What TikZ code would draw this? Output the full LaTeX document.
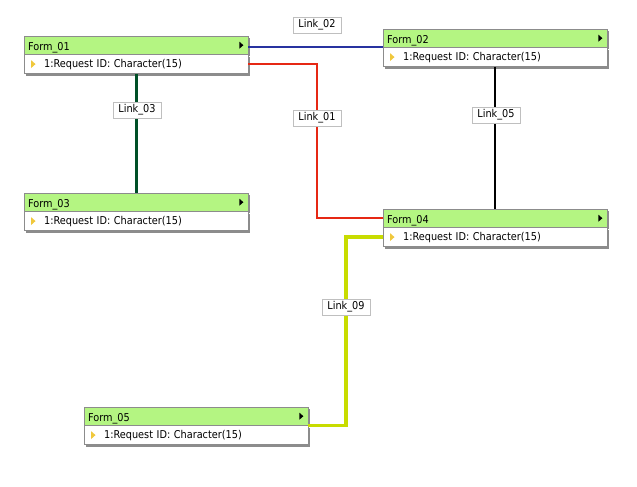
\documentclass[tikz,border=0pt]{standalone}
\usepackage{fontspec}
\setmainfont{DejaVu Sans Condensed}
\usetikzlibrary{positioning, calc, shadows}
\definecolor{headgreen}{RGB}{180,245,130}
\definecolor{boxgray}{RGB}{140,140,140}
\definecolor{linkblue}{RGB}{40,50,160}
\definecolor{linkred}{RGB}{230,40,20}
\definecolor{linkgreen}{RGB}{0,80,40}
\definecolor{linklime}{RGB}{200,220,0}
\definecolor{markyellow}{RGB}{240,200,60}

\tikzset{
  formhead/.style={rectangle, draw=boxgray, fill=headgreen, minimum width=224pt, minimum height=18pt,
    text width=216pt, text height=10.5pt, text depth=0.5pt, align=left, inner sep=3pt, anchor=north west,
    font=\fontsize{10.8}{12}\selectfont,
    drop shadow={shadow xshift=2pt, shadow yshift=-2pt, fill=boxgray, opacity=1}},
  formbody/.style={rectangle, draw=boxgray, fill=white, minimum width=224pt, minimum height=19pt,
    text width=216pt, align=left, inner sep=3pt, anchor=north west, font=\fontsize{10.8}{12}\selectfont,
    drop shadow={shadow xshift=2pt, shadow yshift=-2pt, fill=boxgray, opacity=1}},
  linklabel/.style={rectangle, draw=black!25, fill=white, minimum width=48pt, minimum height=16pt,
    inner sep=2pt, font=\fontsize{10.8}{12}\selectfont},
  linkline/.style={line width=2pt}
}

\begin{document}
\begin{tikzpicture}[x=1pt, y=-1pt]
    \useasboundingbox (0,0) rectangle (637,487);

    % Forms
    \node[formhead] (f1) at (24,36) {Form\_01};
    \node[formbody] (f1b) at (f1.south west) {\hspace*{16pt}1:Request ID: Character(15)};
    \node[formhead] (f2) at (383,29) {Form\_02};
    \node[formbody] (f2b) at (f2.south west) {\hspace*{16pt}1:Request ID: Character(15)};
    \node[formhead] (f3) at (24,193) {Form\_03};
    \node[formbody] (f3b) at (f3.south west) {\hspace*{16pt}1:Request ID: Character(15)};
    \node[formhead] (f4) at (383,209) {Form\_04};
    \node[formbody] (f4b) at (f4.south west) {\hspace*{16pt}1:Request ID: Character(15)};
    \node[formhead] (f5) at (84,407) {Form\_05};
    \node[formbody] (f5b) at (f5.south west) {\hspace*{16pt}1:Request ID: Character(15)};

    % Markers
    \foreach \f in {f1,f2,f3,f4,f5} {
        \fill ($(\f.east)+(-9,-3.5)$) -- ++(4,3.5) -- ++(-4,3.5) -- cycle;
        \fill[markyellow] ($(\f b.west)+(7,-4)$) -- ++(4.5,4) -- ++(-4.5,4) -- cycle;
    }

    % Label places
    \coordinate (c01) at (317,118);
    \coordinate (c03) at (137,110);
    \coordinate (c05) at (496,115);
    \coordinate (c09) at (346,307);

    % Links
    \draw[linkline, linkblue] (f2.south west) -- (f2.south west -| f1.east);
    \draw[linkline, linkred] (f1b.east) -| (c01) |- (f4.west);
    \draw[linkgreen, line width=3pt] (f1b.south) -- (f3.north);
    \draw[linkline, black] (f2b.south) -- (f4.north);
    \draw[linklime, line width=3.5pt] (f4b.west) -| (c09) |- (f5.south east);

    % Link names
    \node[linklabel] (l02) at (317,25) {Link\_02};
    \node[linklabel] (l01) at (c01) {Link\_01};
    \node[linklabel] (l03) at (c03) {Link\_03};
    \node[linklabel] (l05) at (c05) {Link\_05};
    \node[linklabel] (l09) at (c09) {Link\_09};
\end{tikzpicture}
\end{document}
